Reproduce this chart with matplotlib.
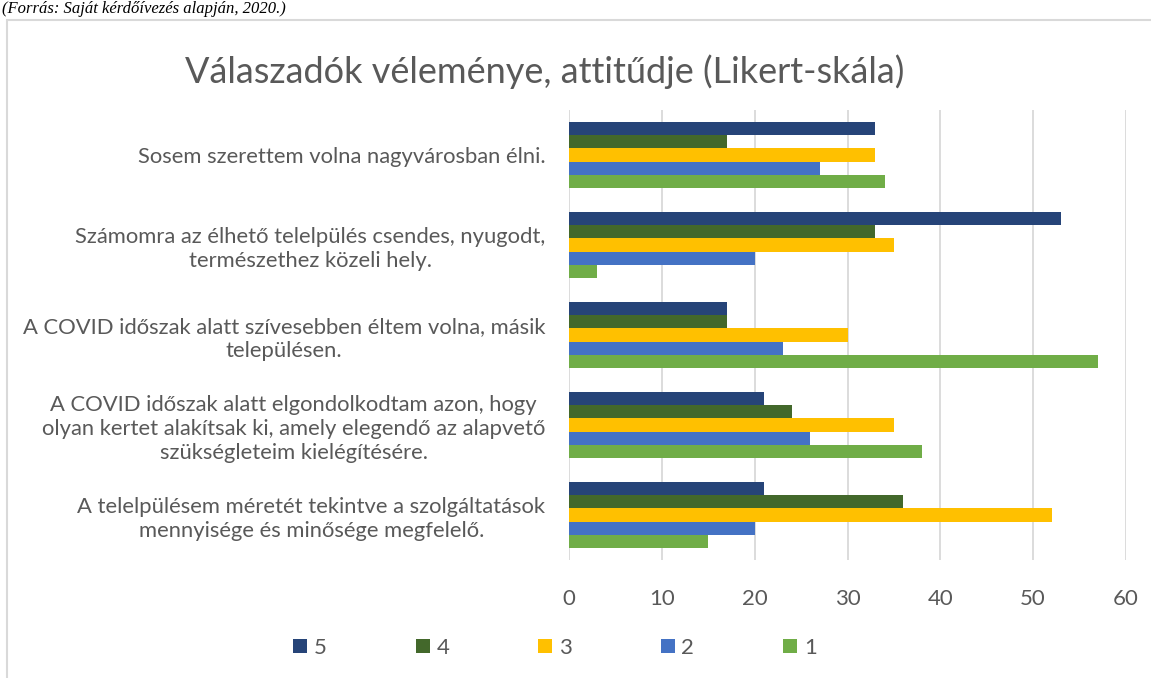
import matplotlib
matplotlib.use("Agg")
import matplotlib.pyplot as plt
from matplotlib.patches import Rectangle
import numpy as np

categories = [
    "Sosem szerettem volna nagyvárosban élni.",
    "Számomra az élhető telelpülés csendes, nyugodt,\ntermészethez közeli hely.",
    "A COVID időszak alatt szívesebben éltem volna, másik\ntelepülésen.",
    "A COVID időszak alatt elgondolkodtam azon, hogy\nolyan kertet alakítsak ki, amely elegendő az alapvető\nszükségleteim kielégítésére.",
    "A telelpülésem méretét tekintve a szolgáltatások\nmennyisége és minősége megfelelő.",
]
series_names = ["5", "4", "3", "2", "1"]
s5 = [33, 53, 17, 21, 21]
s4 = [17, 33, 17, 24, 36]
s3 = [33, 35, 30, 35, 52]
s2 = [27, 20, 23, 26, 20]
s1 = [34, 3, 57, 38, 15]
colors = ["#264478", "#43682B", "#FFC000", "#4472C4", "#70AD47"]
title = "Válaszadók véleménye, attitűdje (Likert-skála)"
source = "(Forrás: Saját kérdőívezés alapján, 2020.)"

plt.rcParams['font.family'] = ['Lato', 'DejaVu Sans']
text_color = "#595959"

fig = plt.figure(figsize=(11.51, 6.78), dpi=100)

# outer chart frame
fig.patches.append(Rectangle((7 / 1151, -0.05), 1.1, 1 - 20 / 678 + 0.05,
                             transform=fig.transFigure, fill=False,
                             edgecolor="#D9D9D9", linewidth=1.5))
fig.text(2 / 1151, 1 - 1 / 678, source, family=["Liberation Serif", "DejaVu Serif"],
         style="italic", fontsize=12, color="black", ha="left", va="top")

ax = fig.add_axes([569 / 1151, 1 - 560 / 678, 557 / 1151, 450 / 678])

all_series = [s5, s4, s3, s2, s1]
y = np.arange(len(categories))
bar_h = 0.1467
for i, (vals, name, c) in enumerate(zip(all_series, series_names, colors)):
    ax.barh(y - 2 * bar_h + i * bar_h, vals, height=bar_h, color=c, label=name, zorder=3)

ax.set_ylim(len(categories) - 0.5, -0.5)
ax.set_xlim(0, 60)
ax.set_xticks(range(0, 61, 10))
ax.set_yticks(y)
ax.set_yticklabels(categories, fontsize=15.8, color=text_color,
                   multialignment="center", linespacing=1.25)
ax.tick_params(axis="y", length=0, pad=17)
ax.tick_params(axis="x", length=0, pad=21, labelsize=16, labelcolor=text_color)
ax.grid(axis="x", color="#D9D9D9", linewidth=1.3, zorder=0)
for s in ax.spines.values():
    s.set_visible(False)

fig.text(545 / 1151, 1 - 72 / 678, title, fontsize=26, color=text_color,
         ha="center", va="center")

handles, labels = ax.get_legend_handles_labels()
fig.legend(handles, labels, loc="center", bbox_to_anchor=(555 / 1151, 1 - 648 / 678),
           ncol=5, frameon=False, fontsize=16, labelcolor=text_color,
           handlelength=0.63, handleheight=0.63, handletextpad=0.3,
           columnspacing=4.0)

fig.savefig("out.png", dpi=100)
